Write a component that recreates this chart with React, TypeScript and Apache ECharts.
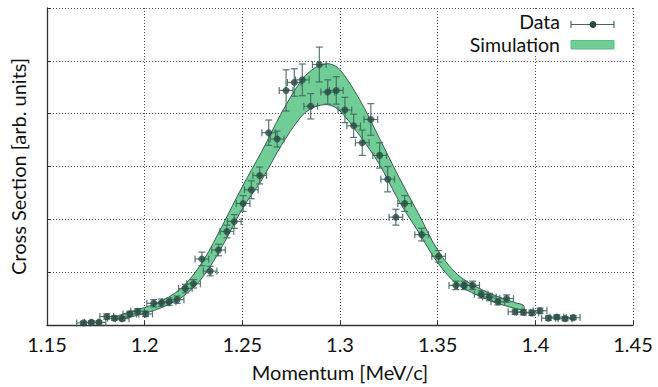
import React, { useEffect, useRef } from "react";
import * as echarts from "echarts";

// ---- Data ----
const xTickMin = 1.15;
const xTickMax = 1.45;
const xTickStep = 0.05;

const dataX = [
  1.1687, 1.1727, 1.1766, 1.1806, 1.1845, 1.1885, 1.1924, 1.1964, 1.2005, 1.2046,
  1.2086, 1.2125, 1.2166, 1.2208, 1.225, 1.2293, 1.2335, 1.2378, 1.2421, 1.2459,
  1.2504, 1.2546, 1.2589, 1.2635, 1.2678, 1.2724, 1.2766, 1.2807, 1.285, 1.2894,
  1.2937, 1.2981, 1.3025, 1.307, 1.3114, 1.3158, 1.3203, 1.3244, 1.3286, 1.3331,
  1.3418, 1.3505, 1.3593, 1.3636, 1.3679, 1.3723, 1.3765, 1.3808, 1.3853, 1.3896,
  1.3939, 1.3982, 1.4024, 1.4067, 1.411, 1.4152, 1.4194,
];
const dataY = [
  0.04, 0.05, 0.05, 0.16, 0.13, 0.12, 0.21, 0.26, 0.21, 0.41,
  0.42, 0.44, 0.48, 0.69, 0.78, 1.25, 1.02, 1.42, 1.77, 1.96,
  2.3, 2.56, 2.83, 3.64, 3.52, 4.44, 4.59, 4.64, 4.14, 4.93,
  4.41, 4.44, 4.07, 3.77, 3.45, 3.89, 3.21, 2.76, 2.04, 2.3,
  1.71, 1.3, 0.75, 0.75, 0.75, 0.58, 0.53, 0.44, 0.5, 0.25,
  0.24, 0.23, 0.27, 0.13, 0.15, 0.12, 0.14,
];
const dataYErr = [
  0.03, 0.03, 0.03, 0.05, 0.04, 0.04, 0.05, 0.05, 0.05, 0.07,
  0.07, 0.07, 0.07, 0.08, 0.08, 0.13, 0.09, 0.11, 0.12, 0.13,
  0.15, 0.17, 0.16, 0.24, 0.15, 0.39, 0.26, 0.3, 0.24, 0.33,
  0.23, 0.26, 0.24, 0.22, 0.24, 0.3, 0.24, 0.24, 0.15, 0.15,
  0.12, 0.11, 0.08, 0.08, 0.08, 0.07, 0.07, 0.06, 0.07, 0.05,
  0.05, 0.05, 0.05, 0.04, 0.04, 0.04, 0.04,
];
const dataXErr = 0.0035;

const bandX = [
  1.185, 1.19, 1.2, 1.21, 1.22, 1.23, 1.24, 1.25, 1.26, 1.27, 1.28, 1.285, 1.29,
  1.295, 1.3, 1.31, 1.32, 1.33, 1.34, 1.35, 1.36, 1.37, 1.38, 1.39, 1.394,
];
const bandHigh = [
  0.15, 0.22, 0.33, 0.48, 0.74, 1.22, 1.9, 2.62, 3.29, 4.01, 4.62, 4.81, 4.92,
  4.94, 4.83, 4.27, 3.55, 2.81, 2.12, 1.42, 0.96, 0.72, 0.55, 0.42, 0.37,
];
const bandLow = [
  0.11, 0.13, 0.22, 0.35, 0.55, 0.92, 1.51, 2.2, 2.75, 3.4, 3.94, 4.09, 4.16,
  4.16, 4.05, 3.59, 3.05, 2.36, 1.77, 1.18, 0.77, 0.57, 0.42, 0.31, 0.29,
];

const legendLabels = ["Data", "Simulation"];

const FILL = "#6fcd95";
const EDGE = "#3c5c52";
const POINT = "#284a43";
const BAR = "#456860";
const FONT = "Lato";

export default function App() {
  const ref = useRef<HTMLDivElement>(null);

  useEffect(() => {
    document.body.style.margin = "0";
    if (!ref.current) return;
    const chart = echarts.init(ref.current, undefined, { renderer: "svg" });

    const errData = dataX.map((x, i) => [x, dataY[i], dataXErr, dataYErr[i]]);
    const bandData = bandX.map((x, i) => [x, bandLow[i], bandHigh[i]]);

    const option: any = {
      animation: false,
      backgroundColor: "#ffffff",
      grid: { left: 46, right: 25, top: 8, bottom: 55, containLabel: false },
      xAxis: {
        type: "value",
        min: xTickMin,
        max: xTickMax,
        interval: xTickStep,
        name: "Momentum [MeV/c]",
        nameLocation: "middle",
        nameGap: 37,
        nameTextStyle: { fontFamily: FONT, fontSize: 20, color: "#111" },
        axisLine: { show: true, onZero: false, lineStyle: { color: "#333", width: 1.3 } },
        axisTick: { show: true, inside: true, length: 4, lineStyle: { color: "#333" } },
        axisLabel: {
          fontFamily: FONT,
          fontSize: 20,
          color: "#111",
          margin: 9,
          formatter: (v: number) => String(parseFloat(v.toFixed(2))),
        },
        splitLine: { show: true, lineStyle: { color: "#444", type: [1, 2], width: 1 } },
      },
      yAxis: {
        type: "value",
        min: 0,
        max: 6,
        interval: 1,
        name: "Cross Section [arb. units]",
        nameLocation: "middle",
        nameGap: 19,
        nameTextStyle: { fontFamily: FONT, fontSize: 20, color: "#111" },
        axisLine: { show: true, onZero: false, lineStyle: { color: "#333", width: 1.3 } },
        axisTick: { show: true, inside: true, length: 4, lineStyle: { color: "#333" } },
        axisLabel: { show: false },
        splitLine: { show: true, lineStyle: { color: "#444", type: [1, 2], width: 1 } },
      },
      series: [
        {
          name: legendLabels[1],
          type: "custom",
          z: 2,
          encode: { x: 0, y: [1, 2] },
          data: bandData,
          renderItem: (params: any, api: any) => {
            if (params.dataIndex !== 0) return null;
            const upper = bandData.map((d) => api.coord([d[0], d[2]]));
            const lower = bandData.map((d) => api.coord([d[0], d[1]]));
            const poly = upper.concat(lower.slice().reverse());
            return {
              type: "group",
              children: [
                {
                  type: "polygon",
                  shape: { points: poly, smooth: 0.35, smoothConstraint: false },
                  style: { fill: FILL, stroke: EDGE, lineWidth: 1 },
                },
              ],
            };
          },
        },
        {
          name: "errors",
          type: "custom",
          z: 4,
          encode: { x: 0, y: 1 },
          data: errData,
          renderItem: (_params: any, api: any) => {
            const x = api.value(0);
            const y = api.value(1);
            const ex = api.value(2);
            const ey = api.value(3);
            const l = api.coord([x - ex, y]);
            const r = api.coord([x + ex, y]);
            const t = api.coord([x, y + ey]);
            const b = api.coord([x, y - ey]);
            const cap = 3.5;
            const style = { stroke: BAR, lineWidth: 1.2, opacity: 0.9 };
            return {
              type: "group",
              children: [
                { type: "line", shape: { x1: l[0], y1: l[1], x2: r[0], y2: r[1] }, style },
                { type: "line", shape: { x1: l[0], y1: l[1] - cap, x2: l[0], y2: l[1] + cap }, style },
                { type: "line", shape: { x1: r[0], y1: r[1] - cap, x2: r[0], y2: r[1] + cap }, style },
                { type: "line", shape: { x1: t[0], y1: t[1], x2: b[0], y2: b[1] }, style },
                { type: "line", shape: { x1: t[0] - cap, y1: t[1], x2: t[0] + cap, y2: t[1] }, style },
                { type: "line", shape: { x1: b[0] - cap, y1: b[1], x2: b[0] + cap, y2: b[1] }, style },
              ],
            };
          },
        },
        {
          name: legendLabels[0],
          type: "scatter",
          z: 5,
          symbol: "circle",
          symbolSize: 7,
          itemStyle: { color: POINT },
          data: dataX.map((x, i) => [x, dataY[i]]),
        },
      ],
      graphic: [
        {
          type: "rect",
          z: 100,
          shape: { x: 464, y: 11, width: 158, height: 45 },
          style: { fill: "#ffffff" },
        },
        {
          type: "text",
          z: 101,
          x: 560,
          y: 21.2,
          style: {
            text: legendLabels[0],
            fontFamily: FONT,
            fontSize: 19.5,
            fill: "#111",
            align: "right",
            verticalAlign: "middle",
          },
        },
        {
          type: "text",
          z: 101,
          x: 560,
          y: 44.8,
          style: {
            text: legendLabels[1],
            fontFamily: FONT,
            fontSize: 19.5,
            fill: "#111",
            align: "right",
            verticalAlign: "middle",
          },
        },
        {
          type: "line",
          z: 101,
          shape: { x1: 571, y1: 24.5, x2: 614, y2: 24.5 },
          style: { stroke: BAR, lineWidth: 1.2 },
        },
        {
          type: "line",
          z: 101,
          shape: { x1: 571, y1: 21, x2: 571, y2: 28 },
          style: { stroke: BAR, lineWidth: 1.2 },
        },
        {
          type: "line",
          z: 101,
          shape: { x1: 614, y1: 21, x2: 614, y2: 28 },
          style: { stroke: BAR, lineWidth: 1.2 },
        },
        {
          type: "circle",
          z: 102,
          shape: { cx: 593, cy: 24.5, r: 3.5 },
          style: { fill: POINT },
        },
        {
          type: "rect",
          z: 101,
          shape: { x: 571, y: 40.5, width: 43, height: 8.5 },
          style: { fill: FILL, stroke: "#5cbf84", lineWidth: 1 },
        },
      ],
    };

    chart.setOption(option);
    return () => chart.dispose();
  }, []);

  return <div ref={ref} style={{ width: 658, height: 387 }} />;
}
